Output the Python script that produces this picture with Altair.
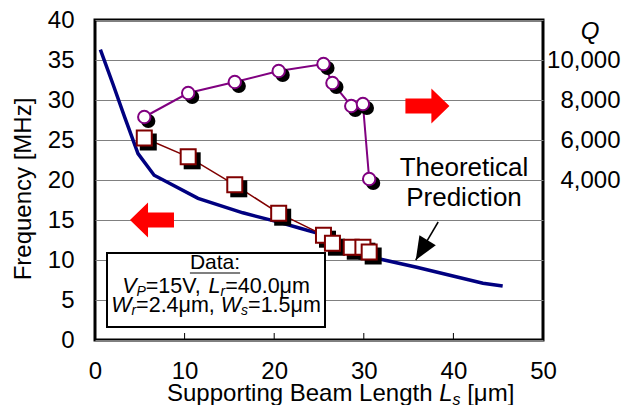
import altair as alt
import pandas as pd

# ---------------- data ----------------
beam_len = [5.5, 10.4, 15.6, 20.5, 25.5, 26.5, 28.6, 29.9, 30.6]
freq_mhz = [25.25, 22.9, 19.4, 15.85, 13.1, 12.1, 11.6, 11.6, 11.0]
q_factor = [7150, 8350, 8900, 9450, 9800, 8850, 7700, 7800, 4050]

theory_len = [0.6, 2.0, 3.3, 4.8, 6.6, 11.5, 16.5, 20.3, 22.8, 24.7, 31.9, 35.9, 39.6, 43.3, 45.5]
theory_freq = [36.3, 32.0, 27.9, 23.3, 20.6, 17.7, 15.9, 14.8, 14.0, 13.4, 10.1, 9.1, 8.1, 7.1, 6.75]

x_ticks = [0, 10, 20, 30, 40, 50]
y_ticks = [0, 5, 10, 15, 20, 25, 30, 35, 40]
q_ticks = [4000, 6000, 8000, 10000]
inner_ticks = [10, 20, 30, 40]

arrow_len = [37.1, 6.36]
arrow_freq = [29.25, 15.0]
arrow_angle = [0, 180]

pointer_start = [38.3, 14.75]
pointer_tip = [35.8, 10.0]

# ---------------- layout ----------------
W, H = 448, 320
FONT = "Liberation Sans"
AX_FS = 24
xs = alt.Scale(domain=[0, 50], nice=False, zero=False)
ys = alt.Scale(domain=[0, 40], nice=False, zero=False)
qs = alt.Scale(domain=[-4000, 12000], nice=False, zero=False)

ARIAL = {' ': 278, ',': 278, '.': 278, ':': 278, '=': 584, '[': 278, ']': 278,
         'B': 667, 'D': 722, 'F': 611, 'H': 722, 'L': 556, 'M': 833, 'P': 667,
         'Q': 778, 'S': 667, 'T': 611, 'V': 667, 'W': 944,
         'a': 556, 'c': 500, 'd': 556, 'e': 556, 'g': 556, 'h': 556, 'i': 222,
         'l': 222, 'm': 833, 'n': 556, 'o': 556, 'p': 556, 'q': 556, 'r': 333,
         's': 500, 't': 278, 'u': 556, 'y': 500, 'z': 500, 'μ': 576}


def measure(txt, size):
    return sum(ARIAL.get(c, 556) for c in txt) * size / 1000.0


def text_layer(txt, x, y, size, italic=False, align="left", angle=None):
    kw = dict(align=align, baseline="alphabetic", fontSize=size, font=FONT,
              color="black", fontStyle="italic" if italic else "normal")
    if angle is not None:
        kw["angle"] = angle
    return alt.Chart(pd.DataFrame({"t": [txt]})).mark_text(**kw).encode(
        x=alt.value(x), y=alt.value(y), text="t:N")


def rich(segments, x, y, size, sub_size, sub_drop, center=False):
    widths = [measure(t, sub_size if sub else size) for t, it, sub in segments]
    x0 = x - sum(widths) / 2 if center else x
    out = []
    for (t, it, sub), w in zip(segments, widths):
        fs = sub_size if sub else size
        lead = measure(t[:len(t) - len(t.lstrip())], fs)
        s = t.strip()
        if s:
            out.append(text_layer(s, x0 + lead, y + (sub_drop if sub else 0), fs, italic=it))
        x0 += w
    return out


df_exp = pd.DataFrame({"L": beam_len, "f": freq_mhz, "Q": q_factor})
df_th = pd.DataFrame({"L": theory_len, "f": theory_freq})
df_ticks = pd.DataFrame({"L": inner_ticks})
df_arrows = pd.DataFrame({"L": arrow_len, "f": arrow_freq, "ang": arrow_angle})
df_ptr = pd.DataFrame({"L": [pointer_start[0]], "f": [pointer_start[1]],
                       "L2": [pointer_tip[0]], "f2": [pointer_tip[1]]})

x_axis = alt.Axis(orient="bottom", values=x_ticks, domain=False, ticks=False, tickSize=0,
                  grid=False, labelPadding=19, labelFontSize=AX_FS, labelFont=FONT,
                  labelColor="black", labelFlush=False, labelOverlap=False, title=None)
y_axis = alt.Axis(orient="left", values=y_ticks, domain=False, ticks=False, tickSize=0,
                  grid=True, gridColor="#808080", gridWidth=1, labelPadding=21,
                  labelFontSize=AX_FS, labelFont=FONT, labelColor="black", labelFlush=False,
                  labelOverlap=False, title=None)
q_axis = alt.Axis(orient="right", values=q_ticks, format=",d", domain=False, ticks=False,
                  tickSize=0, grid=False, labelPadding=77, labelAlign="right",
                  labelFontSize=AX_FS, labelFont=FONT, labelColor="black",
                  labelFlush=False, labelOverlap=False, title=None)

X = lambda: alt.X("L:Q", scale=xs, axis=x_axis)
Yf = lambda ax=None: alt.Y("f:Q", scale=ys, axis=ax)
Yq = lambda ax=None: alt.Y("Q:Q", scale=qs, axis=ax)

theory = alt.Chart(df_th).mark_line(color="#000080", strokeWidth=3.5).encode(
    x=X(), y=Yf(y_axis))
sq_line = alt.Chart(df_exp).mark_line(color="#800000", strokeWidth=1.5).encode(x=X(), y=Yf())
sq_shadow = alt.Chart(df_exp).mark_point(shape="square", filled=True, color="black",
                                         opacity=1, size=289, xOffset=4, yOffset=4).encode(x=X(), y=Yf())
squares = alt.Chart(df_exp).mark_point(shape="square", filled=True, fill="white",
                                       stroke="#800000", strokeWidth=2, opacity=1,
                                       size=225).encode(x=X(), y=Yf())
ticks = alt.Chart(df_ticks).mark_rule(color="black", strokeWidth=1).encode(
    x=X(), y=alt.value(H), y2=alt.value(H - 7))
arrow_path = "M-1,-0.34L0.18,-0.34L0.18,-0.8L1,0L0.18,0.8L0.18,0.34L-1,0.34Z"
arrows = alt.Chart(df_arrows).mark_point(shape=arrow_path, filled=True, color="#ff0000",
                                         opacity=1, size=1936).encode(
    x=X(), y=Yf(), angle=alt.Angle("ang:Q", scale=None))
ptr_line = alt.Chart(df_ptr).mark_rule(color="black", strokeWidth=1.5).encode(
    x=X(), y=Yf(), x2="L2:Q", y2="f2:Q")
ptr_head = alt.Chart(df_ptr).mark_point(shape="M0,0L0.83,-2L-0.83,-2Z", filled=True,
                                        color="black", opacity=1, size=529, angle=31).encode(
    x=alt.X("L2:Q", scale=xs, axis=x_axis), y=alt.Y("f2:Q", scale=ys, axis=None))

q_line = alt.Chart(df_exp).mark_line(color="#800080", strokeWidth=2).encode(x=X(), y=Yq(q_axis))
q_shadow = alt.Chart(df_exp).mark_point(shape="circle", filled=True, color="black",
                                        opacity=1, size=201, xOffset=4, yOffset=4).encode(x=X(), y=Yq())
circles = alt.Chart(df_exp).mark_point(shape="circle", filled=True, fill="white",
                                       stroke="#800080", strokeWidth=2, opacity=1,
                                       size=154).encode(x=X(), y=Yq())

# ---------------- annotations ----------------
one = pd.DataFrame({"a": [0]})
legend_box = alt.Chart(one).mark_rect(fill="white", stroke="black", strokeWidth=2).encode(
    x=alt.value(12), x2=alt.value(230), y=alt.value(233), y2=alt.value(307))
data_w = measure("Data:", 21)
underline = alt.Chart(one).mark_rule(color="black", strokeWidth=1.2).encode(
    x=alt.value(120 - data_w / 2), x2=alt.value(120 + data_w / 2),
    y=alt.value(253), y2=alt.value(253))

ann = [legend_box, underline,
       text_layer("Data:", 120, 249, 21, align="center")]
ann += rich([("V", True, False), ("P", True, True), ("=15V, ", False, False),
             ("L", True, False), ("r", True, True), ("=40.0μm", False, False)],
            121, 273, 21.5, 14, 3, center=True)
ann += rich([("W", True, False), ("r", True, True), ("=2.4μm, ", False, False),
             ("W", True, False), ("s", True, True), ("=1.5μm", False, False)],
            121, 292, 21.5, 14, 3, center=True)
ann += [text_layer("Theoretical", 369, 156, 26, align="center"),
        text_layer("Prediction", 369, 186, 26, align="center"),
        text_layer("Q", 495, 19, AX_FS, italic=True, align="center"),
        text_layer("Frequency [MHz]", -64, 169, AX_FS, align="center", angle=270)]
ann += rich([("Supporting Beam Length ", False, False), ("L", True, False),
             ("s", True, True), (" [μm]", False, False)],
            72, 381, AX_FS, 16, 4)

chart = alt.layer(
    theory, sq_line, sq_shadow, squares, ticks, arrows, ptr_line, ptr_head,
    q_line, q_shadow, circles, *ann
).resolve_scale(y="independent").resolve_axis(y="independent").properties(
    width=W, height=H,
    autosize=alt.AutoSizeParams(type="none"),
    padding={"left": 87, "top": 12, "right": 80, "bottom": 65},
).configure_view(stroke="black", strokeWidth=3)

chart.save("out.html", embed_options={"renderer": "svg", "actions": False})
